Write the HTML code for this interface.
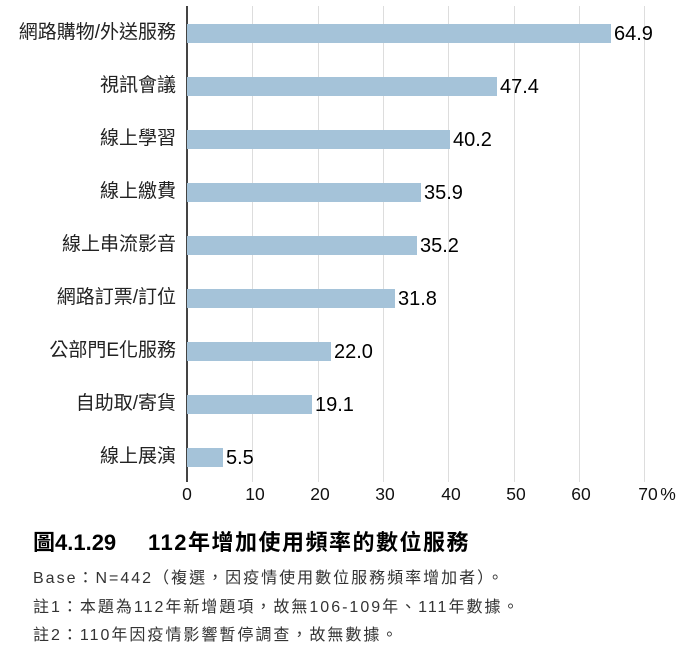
<!DOCTYPE html>
<html><head><meta charset="utf-8"><style>
body{margin:0;width:690px;height:656px;background:#fff;font-family:"Liberation Sans","Noto Sans CJK TC",sans-serif;position:relative;overflow:hidden;color:#111}
.a{position:absolute;white-space:nowrap}
.g{position:absolute;top:6px;height:476px;width:1px;background:#ddd}
.bar{position:absolute;left:187px;height:19px;background:#a5c3d9}
.lab{position:absolute;right:514px;font-size:19px;line-height:19px;color:#222;white-space:nowrap}
.val{position:absolute;font-size:20px;line-height:19px;color:#000;top:1px}
.t{position:absolute;top:484px;font-size:17.5px;width:40px;text-align:center;margin-left:-20px}
.n{position:absolute;left:33px;font-size:16px;color:#333;white-space:nowrap;letter-spacing:2px}
</style></head><body>
<div class="g" style="left:252px"></div><div class="g" style="left:318px"></div><div class="g" style="left:383px"></div><div class="g" style="left:448px"></div><div class="g" style="left:514px"></div><div class="g" style="left:579px"></div><div class="g" style="left:644px"></div>
<div style="position:absolute;left:186px;top:6px;width:1.5px;height:476px;background:#444"></div>

<div class="lab" style="top:23px">網路購物/外送服務</div><div class="bar" style="top:24px;width:424px"></div><div class="val" style="top:25px;left:614px">64.9</div>
<div class="lab" style="top:76px">視訊會議</div><div class="bar" style="top:77px;width:310px"></div><div class="val" style="top:78px;left:500px">47.4</div>
<div class="lab" style="top:129px">線上學習</div><div class="bar" style="top:130px;width:263px"></div><div class="val" style="top:131px;left:453px">40.2</div>
<div class="lab" style="top:182px">線上繳費</div><div class="bar" style="top:183px;width:234px"></div><div class="val" style="top:184px;left:424px">35.9</div>
<div class="lab" style="top:235px">線上串流影音</div><div class="bar" style="top:236px;width:230px"></div><div class="val" style="top:237px;left:420px">35.2</div>
<div class="lab" style="top:288px">網路訂票/訂位</div><div class="bar" style="top:289px;width:208px"></div><div class="val" style="top:290px;left:398px">31.8</div>
<div class="lab" style="top:341px">公部門E化服務</div><div class="bar" style="top:342px;width:144px"></div><div class="val" style="top:343px;left:334px">22.0</div>
<div class="lab" style="top:394px">自助取/寄貨</div><div class="bar" style="top:395px;width:125px"></div><div class="val" style="top:396px;left:315px">19.1</div>
<div class="lab" style="top:447px">線上展演</div><div class="bar" style="top:448px;width:36px"></div><div class="val" style="top:449px;left:226px">5.5</div>

<div class="t" style="left:187px">0</div><div class="t" style="left:255px">10</div><div class="t" style="left:320px">20</div><div class="t" style="left:385px">30</div><div class="t" style="left:451px">40</div><div class="t" style="left:516px">50</div><div class="t" style="left:581px">60</div><div class="t" style="left:648px">70</div><div class="t" style="left:668px">%</div>

<div class="a" style="left:33px;top:525px;font-size:22px;font-weight:bold;color:#000">圖4.1.29</div>
<div class="a" style="left:148px;top:525px;font-size:22px;font-weight:bold;color:#000;letter-spacing:1.5px">112年增加使用頻率的數位服務</div>
<div class="n" style="top:564px">Base：N=442（複選，因疫情使用數位服務頻率增加者）。</div>
<div class="n" style="top:593px">註1：本題為112年新增題項，故無106-109年、111年數據。</div>
<div class="n" style="top:621px">註2：110年因疫情影響暫停調查，故無數據。</div>
</body></html>
